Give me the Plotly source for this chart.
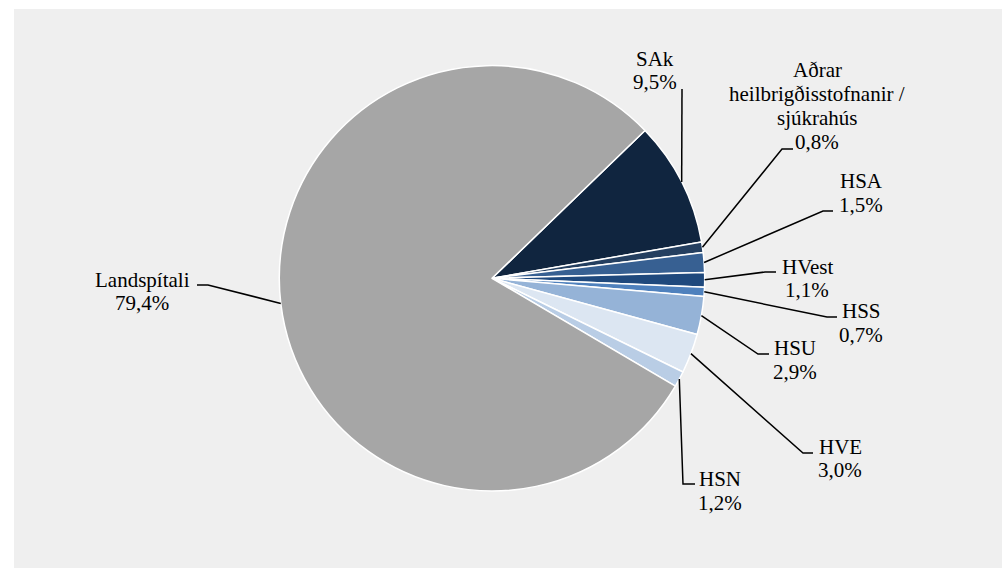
import math
import plotly.graph_objects as go

# ---- data ----
categories = ["SAk", "Aðrar heilbrigðisstofnanir / sjúkrahús", "HSA", "HVest", "HSS",
              "HSU", "HVE", "HSN", "Landspítali"]
label_lines = [["SAk"], ["Aðrar", "heilbrigðisstofnanir /", "sjúkrahús"], ["HSA"], ["HVest"],
               ["HSS"], ["HSU"], ["HVE"], ["HSN"], ["Landspítali"]]
values = [9.5, 0.8, 1.5, 1.1, 0.7, 2.9, 3.0, 1.2, 79.4]
colors = ["#10253F", "#243F60", "#376092", "#1F497D", "#4F81BD",
          "#95B3D7", "#DCE6F2", "#B9CDE5", "#A6A6A6"]

# ---- layout geometry (pixels) ----
W, H = 1002, 568
CX, CY, R = 492, 278.3, 212.7
ROTATION = 46
# label block centre (x, y) and leader elbow / end points (pixels)
label_pos = [(655, 70.5), (817, 106), (861, 193), (807, 278.5), (861, 323),
             (795, 360), (840, 458.5), (720, 491), (142, 291.5)]
leader_elbow = [(682, 89), (782, 149), (823, 211), (765, 272), (827, 317),
                (758, 354), (803, 453), (683, 484), (208, 285)]
leader_end = [(682, 89), (793, 149), (833, 211), (776, 272), (837, 317),
              (769, 354), (813, 453), (695, 484), (197, 285)]
LINE_SP = 23.8
FONT = "Liberation Serif"


def px(x):
    return x / W


def py(y):
    return 1 - y / H


fig = go.Figure()
fig.add_trace(go.Pie(
    labels=categories, values=values, sort=False, direction="clockwise",
    rotation=ROTATION, textinfo="none", hoverinfo="label+percent",
    marker=dict(colors=colors, line=dict(color="white", width=1.5)),
    domain=dict(x=[px(CX - R), px(CX + R)], y=[py(CY + R), py(CY - R)]),
    showlegend=False,
))

shapes = [dict(type="rect", xref="paper", yref="paper", x0=px(14), x1=1, y0=0, y1=py(9),
               fillcolor="#EFEFEF", line=dict(width=0), layer="below")]
annotations = []
total = sum(values)
cum = 0.0
for i, v in enumerate(values):
    mid = math.radians(ROTATION + (cum + v / 2) / total * 360)
    cum += v
    ax, ay = CX + R * math.sin(mid), CY - R * math.cos(mid)
    ex, ey = leader_elbow[i]
    tx, ty = leader_end[i]
    path = f"M {px(ax)} {py(ay)} L {px(ex)} {py(ey)} L {px(tx)} {py(ty)}"
    shapes.append(dict(type="path", xref="paper", yref="paper", path=path,
                       line=dict(color="black", width=1.5)))
    lines = label_lines[i] + [f"{v:.1f}".replace(".", ",") + "%"]
    lx, ly = label_pos[i]
    n = len(lines)
    for k, t in enumerate(lines):
        yk = ly + (k - (n - 1) / 2) * LINE_SP
        annotations.append(dict(x=px(lx), y=py(yk), xref="paper", yref="paper", text=t,
                                showarrow=False, xanchor="center", yanchor="middle",
                                font=dict(family=FONT, size=21, color="black")))

fig.update_layout(width=W, height=H, margin=dict(l=0, r=0, t=0, b=0),
                  paper_bgcolor="white",
                  shapes=shapes, annotations=annotations)
fig.write_html("out.html", config={"displayModeBar": False},
               post_script="document.body.style.margin='0';")
